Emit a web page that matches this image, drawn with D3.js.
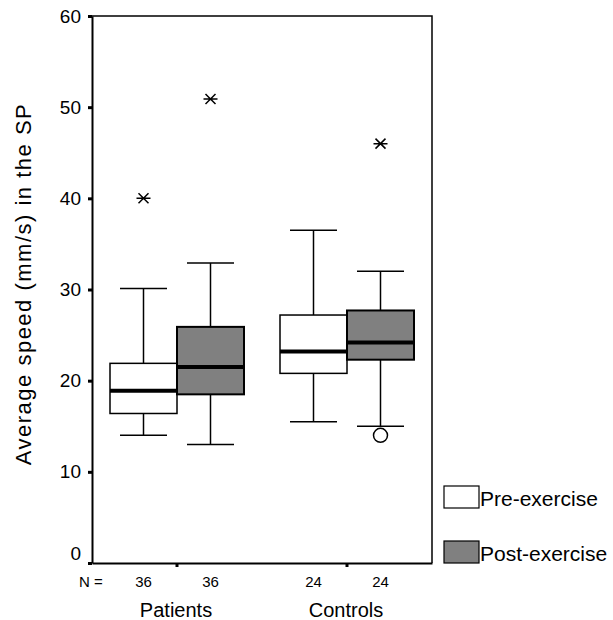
<!DOCTYPE html>
<html>
<head>
<meta charset="utf-8">
<script src="https://cdn.jsdelivr.net/npm/d3@7"></script>
<style>
    body { margin: 0; background: #fff; }
    text { font-family: "Liberation Sans", Arial, sans-serif; fill: #000; }
</style>
</head>
<body>
<div id="chart"></div>
<script>

// chart data
const groups = ["Patients", "Controls"];
const conditions = ["Pre-exercise", "Post-exercise"];
const nCounts = [36, 36, 24, 24];
const whiskerLow = [14, 13, 15.5, 15];
const q1 = [16.4, 18.5, 20.8, 22.3];
const median = [18.9, 21.5, 23.2, 24.2];
const q3 = [21.9, 25.9, 27.2, 27.7];
const whiskerHigh = [30.1, 32.9, 36.5, 32];
const extremes = [[0, 40], [1, 50.9], [3, 46]];   // [box, value] drawn as *
const outliers = [[3, 14]];                      // [box, value] drawn as o
const yTicks = [0, 10, 20, 30, 40, 50, 60];

const fills = {"Pre-exercise": "#ffffff", "Post-exercise": "#808080"};

let boxes = [];
groups.forEach((g, gi) => {
    conditions.forEach((c, ci) => {
        let i = gi * 2 + ci;
        boxes.push({group: g, cond: c, n: nCounts[i], lo: whiskerLow[i], q1: q1[i],
            med: median[i], q3: q3[i], hi: whiskerHigh[i]});
    });
});

const margin = {top: 16, left: 92};
const width = 340, height = 547;

let svg = d3.select("#chart").append("svg")
    .attr("width", 613)
    .attr("height", 620);

let g = svg.append("g")
    .attr("transform", "translate(" + margin.left + "," + margin.top + ")");

let y = d3.scaleLinear().domain([0, 60]).range([height, 0]);
let x = d3.scaleBand().domain(groups).range([0, width]);
let boxW = 67;
let xc = d3.scaleBand().domain(conditions)
    .range([x.bandwidth() / 2 - boxW, x.bandwidth() / 2 + boxW]);

let cx = d => x(d.group) + xc(d.cond) + xc.bandwidth() / 2;

// frame (top and right)
g.append("path")
    .attr("d", "M0,0H" + width + "V" + height)
    .attr("fill", "none")
    .attr("stroke", "#000")
    .attr("stroke-width", 1.5);

// y axis
let yAxis = g.append("g")
    .call(d3.axisLeft(y).tickValues(yTicks).tickSizeInner(4).tickSizeOuter(0).tickPadding(7));
yAxis.select(".domain").attr("stroke-width", 2);
yAxis.selectAll(".tick line").attr("stroke-width", 3);
yAxis.selectAll(".tick text")
    .style("font-size", "19px")
    .attr("font-family", null);
// the zero label sits a bit above its tick
yAxis.selectAll(".tick text").filter(d => d == 0).attr("dy", "-0.2em");

// x axis
let xAxis = g.append("g")
    .attr("transform", "translate(0," + height + ")")
    .call(d3.axisBottom(x).tickSizeInner(4).tickSizeOuter(0).tickFormat(""));
xAxis.select(".domain").attr("stroke-width", 2);
xAxis.selectAll(".tick line").attr("stroke-width", 3);

// whiskers
let bx = g.selectAll(".box")
    .data(boxes)
    .enter().append("g")
    .attr("class", "box");

bx.append("line")
    .attr("x1", cx).attr("x2", cx)
    .attr("y1", d => y(d.lo)).attr("y2", d => y(d.hi))
    .attr("stroke", "#000").attr("stroke-width", 1.5);

[["lo"], ["hi"]].forEach(k => {
    bx.append("line")
        .attr("x1", d => cx(d) - 23.5).attr("x2", d => cx(d) + 23.5)
        .attr("y1", d => y(d[k])).attr("y2", d => y(d[k]))
        .attr("stroke", "#000").attr("stroke-width", 1.5);
});

bx.append("rect")
    .attr("x", d => x(d.group) + xc(d.cond))
    .attr("width", xc.bandwidth())
    .attr("y", d => y(d.q3))
    .attr("height", d => y(d.q1) - y(d.q3))
    .attr("fill", d => fills[d.cond])
    .attr("stroke", "#000")
    .attr("stroke-width", d => d.cond == "Pre-exercise" ? 1.5 : 2);

bx.append("line")
    .attr("x1", d => x(d.group) + xc(d.cond))
    .attr("x2", d => x(d.group) + xc(d.cond) + xc.bandwidth())
    .attr("y1", d => y(d.med)).attr("y2", d => y(d.med))
    .attr("stroke", "#000").attr("stroke-width", 4);

// extreme values (asterisk)
let star = {
    draw(ctx, size) {
        ctx.moveTo(-7, 0); ctx.lineTo(7, 0);
        ctx.moveTo(-5, -5); ctx.lineTo(5, 5);
        ctx.moveTo(-5, 5); ctx.lineTo(5, -5);
    }
};
g.selectAll(".extreme")
    .data(extremes)
    .enter().append("path")
    .attr("class", "extreme")
    .attr("d", d3.symbol().type(star))
    .attr("transform", d => "translate(" + cx(boxes[d[0]]) + "," + y(d[1]) + ")")
    .attr("fill", "none")
    .attr("stroke", "#000")
    .attr("stroke-width", 1.5);

g.selectAll(".outlier")
    .data(outliers)
    .enter().append("circle")
    .attr("class", "outlier")
    .attr("cx", d => cx(boxes[d[0]]))
    .attr("cy", d => y(d[1]))
    .attr("r", 7)
    .attr("fill", "#fff")
    .attr("stroke", "#000")
    .attr("stroke-width", 1.5);

// N = row
g.append("text")
    .attr("x", -13)
    .attr("y", height + 24)
    .style("font-size", "15px")
    .text("N =");

g.selectAll(".ncount")
    .data(boxes)
    .enter().append("text")
    .attr("class", "ncount")
    .attr("x", cx)
    .attr("y", height + 24)
    .attr("text-anchor", "middle")
    .style("font-size", "15px")
    .text(d => d.n);

// group labels
g.selectAll(".glabel")
    .data(groups)
    .enter().append("text")
    .attr("class", "glabel")
    .attr("x", d => x(d) + x.bandwidth() / 2 - 1)
    .attr("y", height + 54)
    .attr("text-anchor", "middle")
    .style("font-size", "20px")
    .text(d => d);

// y label
svg.append("text")
    .attr("transform", "translate(31,284) rotate(-90)")
    .attr("text-anchor", "middle")
    .style("font-size", "22px")
    .style("letter-spacing", "1.5px")
    .text("Average speed (mm/s) in the SP");

// legend
let leg = svg.selectAll(".legend")
    .data(conditions)
    .enter().append("g")
    .attr("class", "legend")
    .attr("transform", (d, i) => "translate(444," + (486 + i * 55) + ")");

leg.append("rect")
    .attr("width", 35)
    .attr("height", 22)
    .attr("fill", d => fills[d])
    .attr("stroke", "#000")
    .attr("stroke-width", 1.2);

leg.append("text")
    .attr("x", 36)
    .attr("y", 20)
    .style("font-size", "21px")
    .text(d => d);

</script>
</body>
</html>
